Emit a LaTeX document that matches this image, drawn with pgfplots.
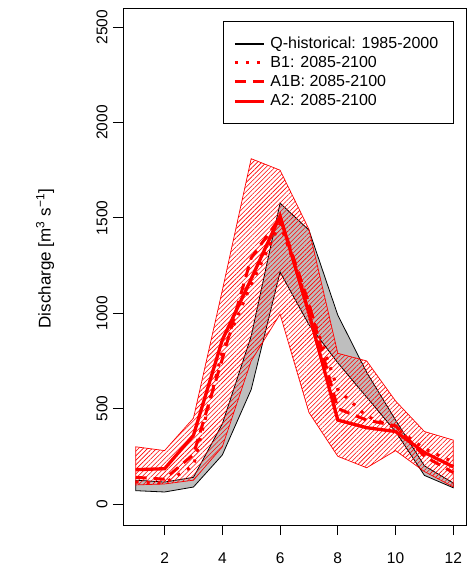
\documentclass[border=0pt]{standalone}
\usepackage{fontspec}
\setmainfont{Liberation Sans}
\usepackage{pgfplots}
\pgfplotsset{compat=1.18}
\usetikzlibrary{patterns.meta}
\definecolor{rgrey}{HTML}{BEBEBE}
\begin{document}
\begin{tikzpicture}
\useasboundingbox (-123pt,-53pt) rectangle (350pt,525pt);
\begin{axis}[
  at={(0pt,0pt)}, anchor=south west, scale only axis,
  width=343pt, height=517pt,
  xmin=0.56, xmax=12.44, ymin=-110, ymax=2600,
  xtick={2,4,...,12}, ytick={0,500,...,2500},
  tick pos=left, tick align=outside, major tick length=10pt,
  tick style={black, line width=0.9pt},
  axis line style={black, line width=0.9pt},
  ticklabel style={font=\fontsize{15.5}{18}\selectfont},
  xticklabel shift=14pt,
  yticklabel shift=2pt,
  /pgf/number format/assume math mode=true,
  /pgf/number format/set thousands separator={},
  yticklabel style={rotate=90, anchor=south},
  ylabel={Discharge [m\textsuperscript{3} s\textsuperscript{−1}]},
  ylabel style={at={(axis description cs:-0.2274,0.515)}, anchor=center, font=\fontsize{17}{20}\selectfont},
  legend cell align=left,
  legend image code/.code={\draw[#1] (0pt,0pt) -- (29pt,0pt);},
  legend style={at={(axis description cs:0.2915,0.9749)}, anchor=north west,
    font=\fontsize{16}{19}\selectfont, draw=black, line width=0.9pt,
    inner xsep=10pt, inner ysep=12.5pt, row sep=0pt,
    nodes={inner ysep=1.2pt, inner xsep=5pt, text height=13pt, text depth=3.8pt}},
]
% historical envelope
\addplot[fill=rgrey, draw=black, line width=0.8pt, forget plot] coordinates {
 (1,125)(2,115)(3,140)(4,420)(5,880)(6,1577)(7,1436)(8,990)(9,690)(10,440)(11,200)(12,110)
 (12,85)(11,150)(10,380)(9,560)(8,740)(7,940)(6,1216)(5,600)(4,257)(3,89)(2,63)(1,70)
} -- cycle;
% scenario envelope
\addplot[pattern={Lines[angle=45,distance=3.2pt,line width=0.6pt]}, pattern color=red, draw=red, line width=0.7pt, forget plot] coordinates {
 (1,300)(2,280)(3,450)(4,1120)(5,1810)(6,1750)(7,1440)(8,790)(9,750)(10,540)(11,380)(12,335)
 (12,90)(11,170)(10,280)(9,190)(8,250)(7,480)(6,995)(5,750)(4,300)(3,125)(2,105)(1,100)
} -- cycle;
% B1 dotted
\addplot[red, line width=3pt, dash pattern=on 3pt off 8pt, forget plot] coordinates {
 (1,115)(2,110)(3,200)(4,800)(5,1150)(6,1470)(7,1040)(8,600)(9,460)(10,400)(11,290)(12,220)
};
% A1B dashed
\addplot[red, line width=3pt, dash pattern=on 11pt off 7pt, forget plot] coordinates {
 (1,140)(2,130)(3,260)(4,760)(5,1290)(6,1500)(7,1050)(8,500)(9,440)(10,410)(11,250)(12,165)
};
% A2 solid
\addplot[red, line width=3.3pt, forget plot] coordinates {
 (1,180)(2,185)(3,360)(4,860)(5,1180)(6,1510)(7,1000)(8,440)(9,400)(10,380)(11,270)(12,195)
};
\addlegendimage{black, line width=2pt}
\addlegendentry{Q-historical: 1985-2000}
\addlegendimage{red, line width=3pt, dash pattern=on 3pt off 8pt}
\addlegendentry{B1: 2085-2100}
\addlegendimage{red, line width=3pt, dash pattern=on 11pt off 7pt}
\addlegendentry{A1B: 2085-2100}
\addlegendimage{red, line width=3pt}
\addlegendentry{A2: 2085-2100}
\end{axis}
\end{tikzpicture}
\end{document}
